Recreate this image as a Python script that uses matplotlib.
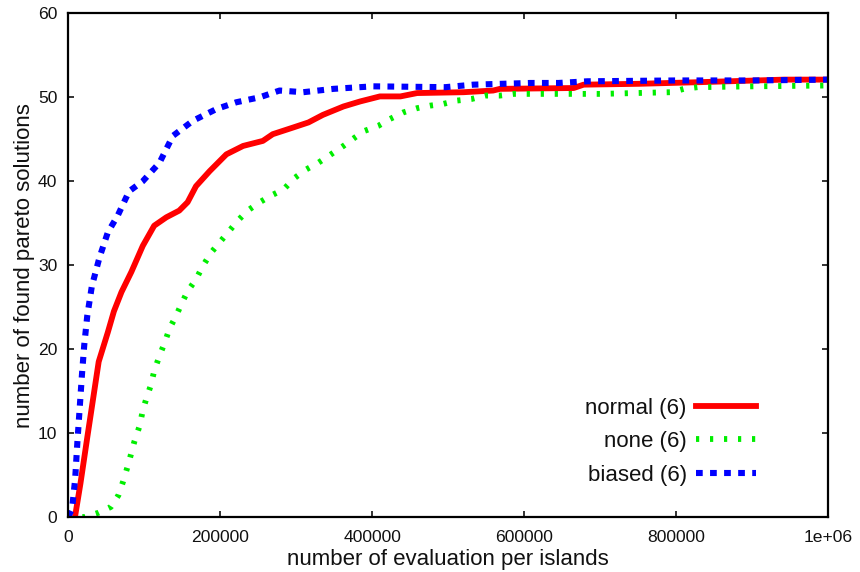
import numpy as np
import matplotlib
matplotlib.use('Agg')
import matplotlib.pyplot as plt

# ============================================================
# DONNEES
# ============================================================

normal_x = [8800, 16000, 25000, 40000, 52000, 60000, 70000, 83000, 98000, 113000,
            129000, 146000, 157000, 168000, 186000, 208000, 230000, 256000, 269000,
            296000, 316000, 335000, 362000, 384000, 410000, 437000, 459000, 520000,
            559000, 568000, 665000, 678000, 750000, 832000, 942000, 1000000]
normal_y = [0, 4.0, 9.5, 18.5, 22.0, 24.5, 26.8, 29.2, 32.3, 34.7,
            35.7, 36.5, 37.5, 39.4, 41.2, 43.2, 44.2, 44.8, 45.6,
            46.4, 47.0, 47.9, 48.9, 49.5, 50.1, 50.1, 50.5, 50.6,
            50.8, 51.0, 51.1, 51.5, 51.6, 51.8, 52.1, 52.1]

none_x = [0, 22000, 39500, 56000, 66000, 72000, 79000, 87000, 94000, 98000,
          103000, 109000, 113000, 120000, 127000, 133000, 142000, 149000, 157000,
          168000, 177000, 188000, 199000, 212000, 223000, 236000, 252000, 267000,
          283000, 298000, 313000, 329000, 344000, 362000, 377000, 390000, 408000,
          423000, 441000, 459000, 476000, 493000, 511000, 531000, 549000, 568000,
          586000, 700000, 793000, 810000, 828000, 900000, 1000000]
none_y = [0, 0, 0.5, 1.2, 2.6, 4.2, 6.3, 9.0, 10.9, 12.7,
          14.2, 15.8, 17.4, 19.2, 20.8, 22.4, 24.0, 25.4, 26.9,
          28.3, 29.9, 31.5, 32.7, 34.1, 35.3, 36.5, 37.5, 38.3,
          39.0, 40.4, 41.4, 42.2, 43.1, 44.2, 45.2, 46.0, 46.6,
          47.4, 48.2, 48.7, 49.0, 49.2, 49.6, 49.8, 50.2, 50.2,
          50.4, 50.4, 50.6, 51.0, 51.2, 51.3, 51.4]

biased_x = [0, 5000, 9000, 12000, 15000, 18000, 21000, 25000, 31000, 41000,
            52000, 65000, 80000, 98000, 120000, 137600, 164000, 195000, 221000,
            252000, 278000, 309000, 349000, 401000, 496000, 533000, 608000,
            645000, 683000, 800000, 900000, 1000000]
biased_y = [0, 1.0, 4.5, 9.0, 13.0, 17.0, 20.5, 24.0, 27.5, 30.9,
            33.9, 35.9, 38.8, 40.0, 42.2, 45.4, 47.2, 48.6, 49.4,
            50.0, 50.8, 50.6, 51.0, 51.3, 51.2, 51.5, 51.7,
            51.7, 51.9, 52.0, 52.0, 52.1]

labels = ['normal (6)', 'none (6)', 'biased (6)']

x_ticks = [0, 200000, 400000, 600000, 800000, 1000000]
x_tick_labels = ['0', '200000', '400000', '600000', '800000', '1e+06']
y_ticks = [0, 10, 20, 30, 40, 50, 60]

# ============================================================
# STYLE
# ============================================================

plt.rcParams['font.family'] = ['Liberation Sans', 'DejaVu Sans']

rouge = '#FF0000'
vert  = '#00EE00'
bleu  = '#0000FF'
texte = '#111111'

fig = plt.figure(figsize=(8.6, 5.72), dpi=100)
ax = fig.add_axes([68.3 / 860, 55 / 572, 760 / 860, 503.7 / 572])

ax.plot(normal_x, normal_y, color=rouge, linewidth=4.2, label=labels[0],
        solid_joinstyle='round')
ax.plot(none_x, none_y, color=vert, linewidth=4.2, label=labels[1],
        dashes=(0.55, 1.85))
ax.plot(biased_x, biased_y, color=bleu, linewidth=4.4, label=labels[2],
        dashes=(1.1, 1.2))

ax.set_xlim(0, 1000000)
ax.set_ylim(0, 60)
ax.set_xticks(x_ticks)
ax.set_xticklabels(x_tick_labels)
ax.set_yticks(y_ticks)

ax.tick_params(direction='in', length=4.5, width=1.2, top=True, right=True,
               labelsize=12.6, colors=texte)
ax.tick_params(axis='x', pad=9.5)
ax.tick_params(axis='y', pad=8)
for spine in ax.spines.values():
    spine.set_linewidth(1.6)
    spine.set_color('black')

ax.set_xlabel('number of evaluation per islands', fontsize=16, color=texte, labelpad=2.5)
ax.set_ylabel('number of found pareto solutions', fontsize=16, color=texte, labelpad=2)

ax.legend(loc='center right', bbox_to_anchor=(756 / 860, 1 - 441.7 / 572),
          bbox_transform=fig.transFigure, frameon=False, markerfirst=False,
          fontsize=16, handlelength=2.7, handletextpad=0.42, labelspacing=0.56,
          borderpad=0, borderaxespad=0, labelcolor=texte)

plt.savefig('out.png', dpi=100)
